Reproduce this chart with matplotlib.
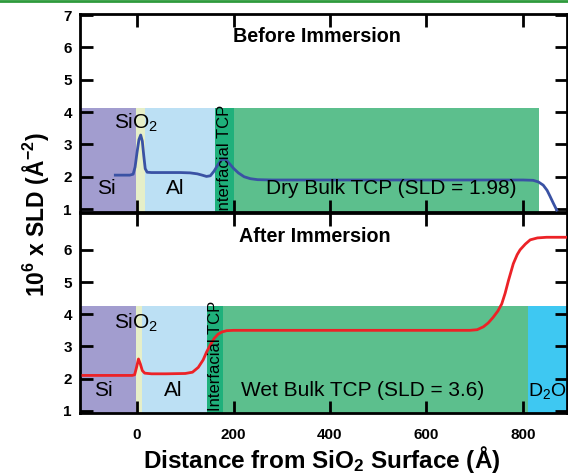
import matplotlib
matplotlib.use("Agg")
import matplotlib.pyplot as plt
from matplotlib.lines import Line2D

plt.rcParams['font.family'] = ['Liberation Sans Narrow', 'Liberation Sans', 'DejaVu Sans']
plt.rcParams['mathtext.default'] = 'regular'

# SLD profile before immersion (blue)
before_x = [-45, -15, -8, -4, 0, 4, 7.6, 11, 14, 17, 21, 30, 60, 90, 110, 125, 135, 144, 152,
            160, 168, 174, 179, 185, 192, 200, 210, 222, 235, 250, 280, 400, 600, 800,
            821, 832, 842, 850, 856, 863, 870]
before_y = [2.05, 2.05, 2.08, 2.3, 2.75, 3.15, 3.29, 3.1, 2.65, 2.25, 2.14, 2.13, 2.13, 2.13, 2.12,
            2.09, 2.05, 2.01, 2.03, 2.18, 2.38, 2.5, 2.55, 2.51, 2.4, 2.26, 2.12, 2.0, 1.94,
            1.91, 1.9, 1.9, 1.9, 1.9, 1.89, 1.84, 1.74, 1.58, 1.4, 1.18, 0.97]

# SLD profile after immersion (red)
after_x = [-112, -10, -5, -1, 3, 7, 11, 16, 30, 60, 100, 115, 127, 137, 144, 152, 160, 168,
           176, 186, 200, 400, 600, 690, 705, 718, 728, 738, 748, 756, 763, 770, 780, 788,
           794, 805, 815, 830, 849, 890]
after_y = [2.1, 2.1, 2.12, 2.35, 2.61, 2.45, 2.25, 2.17, 2.15, 2.15, 2.16, 2.2, 2.35, 2.58, 2.82,
           3.05, 3.25, 3.38, 3.45, 3.49, 3.5, 3.5, 3.5, 3.5, 3.52, 3.61, 3.73, 3.9, 4.1, 4.32,
           4.65, 5.05, 5.57, 5.85, 6.0, 6.18, 6.31, 6.37, 6.39, 6.39]

# layer regions: (start, end, color)
before_layers = [(-118, -3, '#a29dcf'), (-3, 17, '#e6efc8'), (17, 162, '#bce0f4'),
                 (162, 200, '#1fb07b'), (200, 833, '#5cbf8d')]
after_layers = [(-118, -2, '#a29dcf'), (-2, 10, '#e6efc8'), (10, 145, '#bce0f4'),
                (145, 179, '#1fb07b'), (179, 810, '#5cbf8d'), (810, 891, '#3ec8f2')]

fig = plt.figure(figsize=(5.68, 4.75), dpi=100)
ax1 = fig.add_axes([0.141, 0.553, 0.857, 0.418])
ax2 = fig.add_axes([0.141, 0.131, 0.857, 0.421])

for ax, layers, top in [(ax1, before_layers, 4.12), (ax2, after_layers, 4.27)]:
    for x0, x1, c in layers:
        ax.fill_between([x0, x1], 0.0, top, color=c, lw=0, zorder=0)

ax1.plot(before_x, before_y, color='#3a52a4', lw=2, zorder=3)
ax2.plot(after_x, after_y, color='#ec2227', lw=2, zorder=3)

ax1.set_ylim(0.9, 7.04)
ax2.set_ylim(0.94, 7.15)
ax1.set_yticks([1, 2, 3, 4, 5, 6, 7])
ax2.set_yticks([1, 2, 3, 4, 5, 6])
for ax in (ax1, ax2):
    ax.set_xlim(-118, 891)
    ax.set_xticks([0, 200, 400, 600, 800])
    ax.tick_params(direction='in', length=9, width=2, top=True, right=True,
                   labelsize=11, pad=6)
    ax.tick_params(axis='x', pad=11)
    for lab in ax.get_xticklabels() + ax.get_yticklabels():
        lab.set_fontweight('bold')
        lab.set_family(['Liberation Sans', 'DejaVu Sans'])
    for s in ax.spines.values():
        s.set_linewidth(2)
ax1.tick_params(labelbottom=False)

bold = dict(fontweight='bold', fontsize=14.2, ha='center', va='center')
ax1.text(317 / 0.4825 - 284, 6.33, 'Before Immersion', **bold)
ax2.text(369, 6.4, 'After Immersion', **bold)

lab = dict(fontsize=15, ha='center', va='center')
ax1.text(-64, 1.65, 'Si', **lab)
ax1.text(79, 1.65, 'Al', **lab)
ax1.text(-47, 3.68, 'SiO$_2$', fontsize=15, ha='left', va='center')
ax1.text(181, 2.52, 'Interfacial TCP', fontsize=12, rotation=90, ha='center', va='center')
ax1.text(526, 1.65, 'Dry Bulk TCP (SLD = 1.98)', **lab)

ax2.text(-70, 1.63, 'Si', **lab)
ax2.text(75, 1.63, 'Al', **lab)
ax2.text(-47, 3.72, 'SiO$_2$', fontsize=15, ha='left', va='center')
ax2.text(162, 2.71, 'Interfacial TCP', fontsize=12, rotation=90, ha='center', va='center')
ax2.text(467, 1.63, 'Wet Bulk TCP (SLD = 3.6)', **lab)
ax2.text(811, 1.63, 'D$_2$O', fontsize=14, ha='left', va='center')

fig.text(0.063, 0.547, r'10$^6$ x SLD (Å$^{-2}$)', rotation=90, ha='center', va='center',
         fontsize=16.5, fontweight='bold', family=['Liberation Sans', 'DejaVu Sans'])
fig.text(0.566, 0.032, 'Distance from SiO$_2$ Surface (Å)', ha='center', va='center',
         fontsize=17.5, fontweight='bold', family=['Liberation Sans', 'DejaVu Sans'])

# green rule along the top edge
fig.add_artist(Line2D([0, 1], [0.997, 0.997], transform=fig.transFigure, color='#2e9a3c', lw=2))

fig.savefig('out.png', dpi=100)
